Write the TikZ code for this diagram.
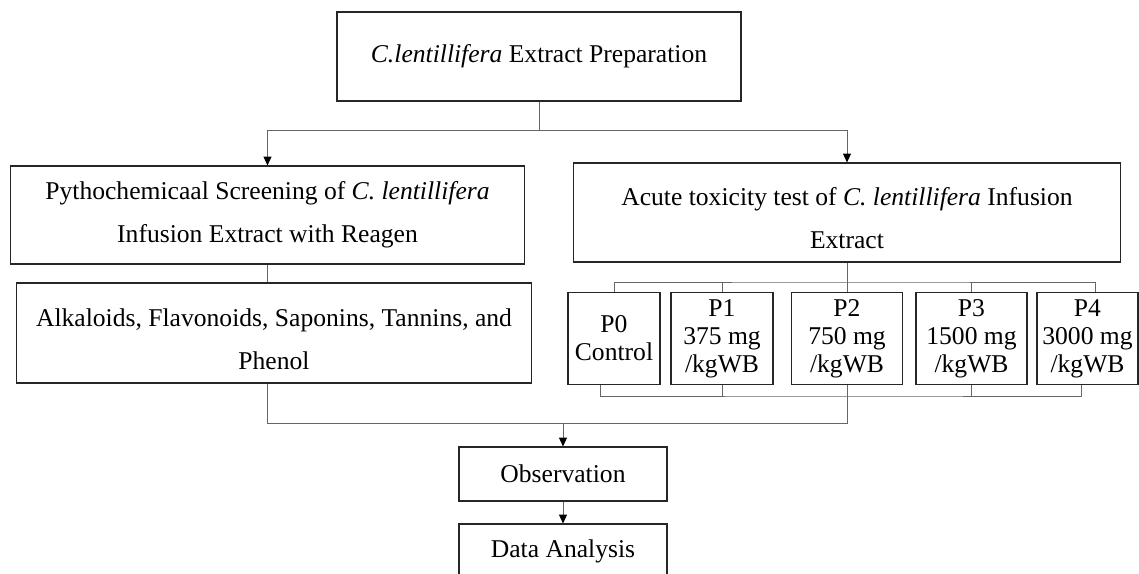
\documentclass[tikz,border=0pt]{standalone}
\usepackage{fontspec}
\setmainfont{Liberation Serif}
\usetikzlibrary{arrows.meta}

\begin{document}
\begin{tikzpicture}[x=0.025cm, y=-0.025cm,
    box/.style={draw=black!85, line width=0.8pt, align=center, inner sep=0pt, font=\fontsize{18.2}{30.5}\selectfont},
    dose/.style={box, minimum height=2.3cm, font=\fontsize{18.2}{19.9}\selectfont},
    link/.style={draw=black!60, line width=0.6pt},
    arr/.style={link, -{Triangle[length=2.2mm, width=2mm, black]}}]
    \clip (0,0) rectangle (1139,573);
    % boxes
    \node[box, minimum width=10.1cm, minimum height=2.225cm] (prep) at (539,56.5) {\textit{C.lentillifera} Extract Preparation};
    \node[box, minimum width=12.825cm, minimum height=2.45cm] (screen) at (267.5,215) {Pythochemicaal Screening of \textit{C. lentillifera}\\Infusion Extract with Reagen};
    \node[box, minimum width=13.65cm, minimum height=2.475cm] (acute) at (847,212.5) {\rule{0pt}{21pt}Acute toxicity test of \textit{C. lentillifera} Infusion\\Extract};
    \node[box, minimum width=12.85cm, minimum height=2.5cm] (comp) at (274,333) {\rule{0pt}{21pt}Alkaloids, Flavonoids, Saponins, Tannins, and\\Phenol};
    \foreach \n/\x/\w/\txt in {0/614/2.3/{P0\\Control}, 1/722/2.55/{P1\\375 mg\\/kgWB}, 2/847/2.775/{P2\\750 mg\\/kgWB}, 3/971.5/2.775/{P3\\1500 mg\\/kgWB}, 4/1087.5/2.525/{P4\\3000 mg\\/kgWB}}
        \node[dose, minimum width=\w cm] (P\n) at (\x,338.5) {\txt};
    \node[box, minimum width=5.2cm, minimum height=1.35cm] (obs) at (563,474) {Observation};
    \node[box, minimum width=5.2cm, minimum height=1.35cm] (data) at (563,551) {Data Analysis};
    % connectors
    \coordinate (split) at (539,130);
    \draw[link] (prep.south) -- (split);
    \draw[arr] (split) -| (screen.north);
    \draw[arr] (split) -| (acute.north);
    \draw[link] (screen.south) -- (screen.south |- comp.north);
    \coordinate (bus) at (847,282);
    \draw[link] (acute.south) -- (P2.north);
    \draw[link] (P0.north) |- (bus) -| ([xshift=0.19cm]P4.north);
    \foreach \p in {P1,P3} \draw[link] (\p.north) -- (\p.north |- bus);
    \coordinate (low) at (847,396);
    \draw[link] ([xshift=-0.35cm]P0.south) |- (low) -| ([xshift=-0.16cm]P4.south);
    \foreach \p in {P1,P3} \draw[link] (\p.south) -- (\p.south |- low);
    \coordinate (join) at (563,423);
    \draw[link] (comp.south -| screen.south) |- (join);
    \draw[link] (P2.south) |- (join);
    \draw[arr] (join) -- (obs.north);
    \draw[arr] (obs) -- (data);
\end{tikzpicture}
\end{document}
